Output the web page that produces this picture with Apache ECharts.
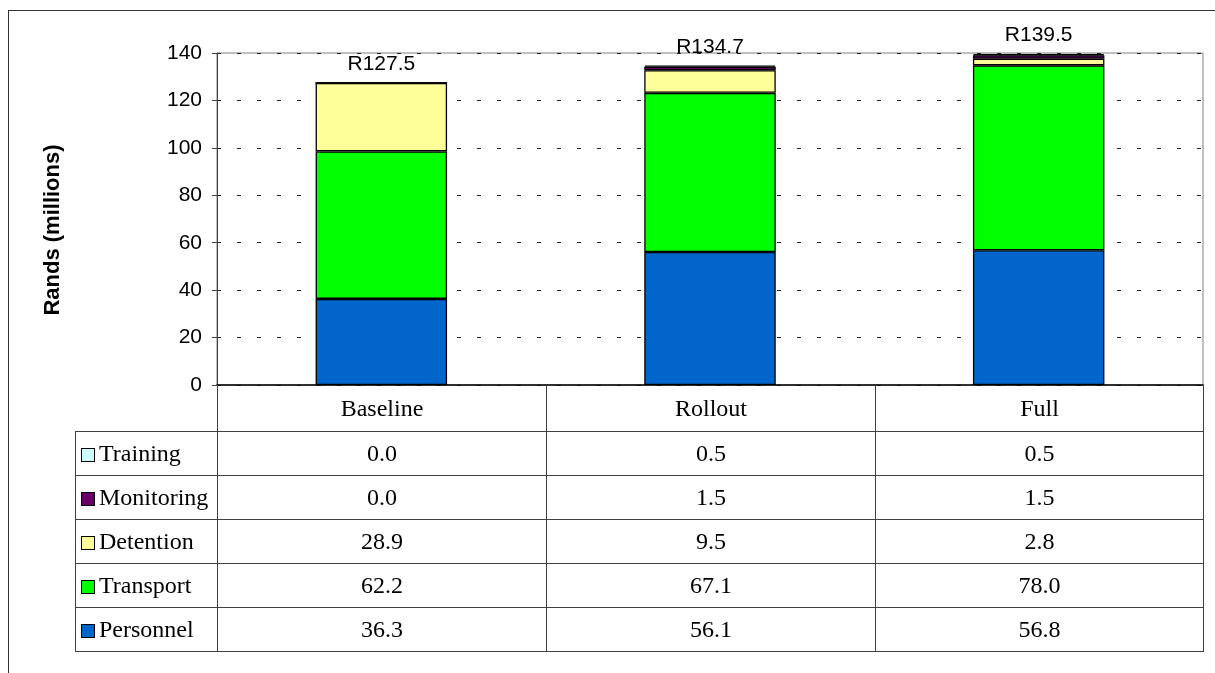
<!DOCTYPE html>
<html>
<head>
<meta charset="utf-8">
<script src="https://cdn.jsdelivr.net/npm/echarts@6/dist/echarts.min.js"></script>
<style>
  html, body { margin: 0; padding: 0; background: #fff; }
  #wrap { position: relative; width: 1215px; height: 673px; overflow: hidden; }
  #frame { position: absolute; left: 8px; top: 10px; right: -5px; bottom: -5px;
           border-left: 1.5px solid #333; border-top: 1.5px solid #333; }
  #main { position: absolute; left: 0; top: 0; width: 1215px; height: 673px; }
  #dataTable { position: absolute; left: 75px; top: 385px; width: 1128px;
               border-collapse: collapse; table-layout: fixed;
               font-family: 'Liberation Serif', 'Times New Roman', serif; font-size: 24px; color: #000; }
  #dataTable td { border: 1px solid #404040; padding: 0; text-align: center; height: 43px; }
  #dataTable tr.head td { height: 46px; border-top: none; }
  #dataTable tr.head td.blank { border-left: none; border-bottom: 1px solid #404040; }
  #dataTable td.name { text-align: left; padding-left: 5px; white-space: nowrap; }
  .sw { display: inline-block; width: 12px; height: 12px; border: 1.5px solid #000;
        margin-right: 4px; vertical-align: -1px; }
</style>
</head>
<body>
<div id="wrap">
  <div id="frame"></div>
  <div id="main"></div>
  <table id="dataTable"></table>
</div>
<script>
// data
var categories = ['Baseline', 'Rollout', 'Full'];
var personnel  = [36.3, 56.1, 56.8];
var transport  = [62.2, 67.1, 78.0];
var detention  = [28.9, 9.5, 2.8];
var monitoring = [0.0, 1.5, 1.5];
var training   = [0.0, 0.5, 0.5];
var totalLabels = ['R127.5', 'R134.7', 'R139.5'];

function Set_Cost_echarts(){
    var chartDom = document.getElementById('main');
    var myChart = echarts.init(chartDom, null, { renderer: 'canvas' });

    // stack order bottom -> top
    var seriesList = [
        { name: 'Personnel',  data: personnel,  color: '#0066CC' },
        { name: 'Transport',  data: transport,  color: '#00FF00' },
        { name: 'Detention',  data: detention,  color: '#FFFF99' },
        { name: 'Monitoring', data: monitoring, color: '#660066' },
        { name: 'Training',   data: training,   color: '#CCFFFF' }
    ];

    var series = seriesList.map(function (s, i) {
        var item = {
            name: s.name,
            type: 'bar',
            stack: 'cost',
            barWidth: '40%',
            data: s.data,
            itemStyle: { color: s.color, borderColor: '#000', borderWidth: 1.3 }
        };
        if (i === seriesList.length - 1) {
            item.label = {
                show: true,
                position: 'top',
                distance: 8,
                fontFamily: 'Liberation Sans, Arial, sans-serif',
                fontSize: 21,
                color: '#000',
                formatter: function (p) { return totalLabels[p.dataIndex]; }
            };
        }
        return item;
    });

    var option = {
        animation: false,
        grid: {
            left: 217, top: 53, right: 12, bottom: 288,
            show: true, borderColor: '#808080', borderWidth: 1, backgroundColor: 'transparent'
        },
        xAxis: {
            type: 'category',
            data: categories,
            axisLine: { lineStyle: { color: '#000', width: 1.5 } },
            axisTick: { show: false },
            axisLabel: { show: false }
        },
        yAxis: {
            type: 'value',
            min: 0,
            max: 140,
            interval: 20,
            name: 'Rands (millions)',
            nameLocation: 'middle',
            nameRotate: 90,
            nameGap: 153,
            nameTextStyle: {
                fontFamily: 'Liberation Sans, Arial, sans-serif',
                fontSize: 22, fontWeight: 'bold', color: '#000',
                padding: [0, 22, 0, 0]
            },
            axisLine: { show: true, lineStyle: { color: '#404040', width: 1 } },
            axisTick: { show: true, inside: false, length: 5, lineStyle: { color: '#404040' } },
            axisLabel: {
                fontFamily: 'Liberation Sans, Arial, sans-serif',
                fontSize: 21, color: '#000', margin: 15
            },
            splitLine: { show: true, lineStyle: { color: '#222', type: [4, 16], width: 1 } }
        },
        series: series
    };

    myChart.setOption(option);

    // data table below the chart, rows top -> bottom
    var table = document.getElementById('dataTable');
    var html = '<colgroup><col style="width:142px"><col style="width:329px"><col style="width:329px"><col style="width:328px"></colgroup>';
    html += '<tr class="head"><td class="blank"></td>';
    categories.forEach(function (c) { html += '<td>' + c + '</td>'; });
    html += '</tr>';
    seriesList.slice().reverse().forEach(function (s) {
        html += '<tr><td class="name"><span class="sw" style="background:' + s.color + '"></span>' + s.name + '</td>';
        s.data.forEach(function (v) { html += '<td>' + v.toFixed(1) + '</td>'; });
        html += '</tr>';
    });
    table.innerHTML = html;

    window.addEventListener('resize', myChart.resize);
}
Set_Cost_echarts();
</script>
</body>
</html>
